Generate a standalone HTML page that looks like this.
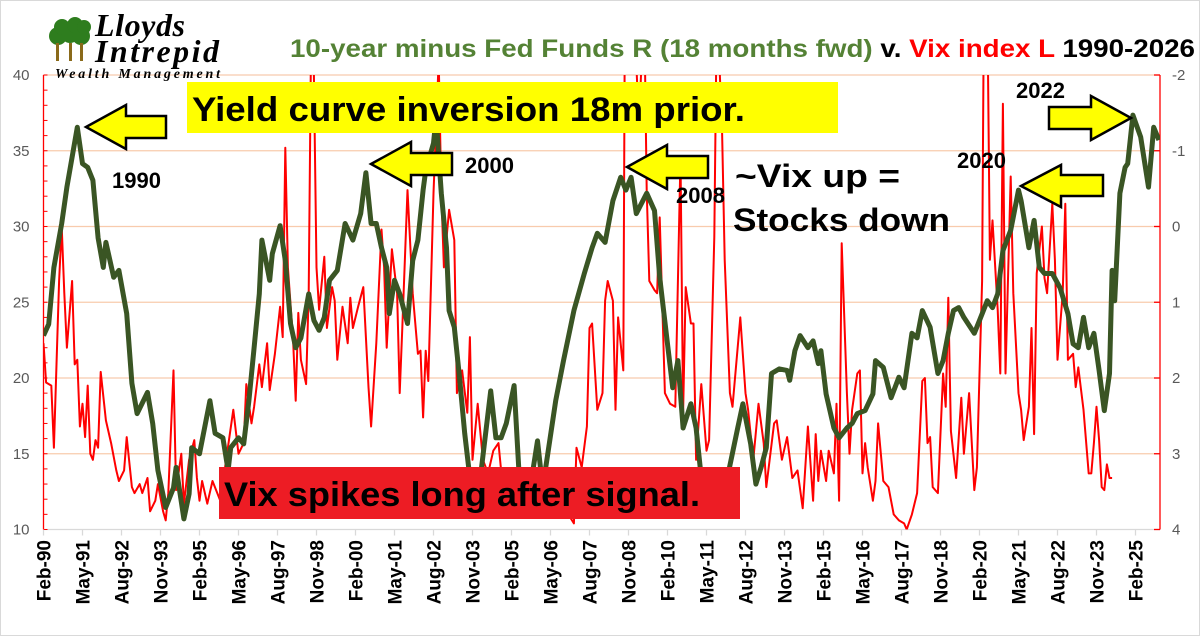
<!DOCTYPE html>
<html><head><meta charset="utf-8">
<style>
html,body{margin:0;padding:0;background:#fff}
body{width:1200px;height:636px;overflow:hidden;position:relative;font-family:"Liberation Sans",sans-serif}
#frame{position:absolute;left:0;top:0;width:1198px;height:634px;border:1px solid #d9d9d9}
svg{position:absolute;left:0;top:0}
</style></head>
<body>
<div id="frame"></div>
<svg id="chart" width="1200" height="636"></svg>
<script>
// Data: months since Feb-1990
const greenMonths=[0,2,4,7,9,13,15,17,19,21,23,24,27,29,32,34,36,40,42,44,47,50,51,54,56,57,60,64,66,69,71,72,75,77,79,81,83,84,87,88,91,93,95,97,99,102,104,106,108,110,113,116,119,122,124,126,128,130,132,133,135,137,140,142,144,146,147,150,151,153,155,156,158,160,162,164,168,172,174,176,178,181,183,187,190,192,197,200,204,208,211,213,216,219,222,224,226,228,232,235,237,240,242,244,246,249,251,253,257,263,267,269,272,274,276,278,280,283,286,287,289,291,294,296,298,299,301,304,306,309,311,313,316,319,320,323,326,329,331,334,336,338,341,344,346,348,350,352,354,358,360,363,365,367,369,372,375,376,379,381,383,385,388,391,394,396,398,400,402,404,406,408,410,411,412,414,416,417,419,422,425,427,429];
const greenValues=[1.44,1.29,0.54,-0.04,-0.52,-1.31,-0.83,-0.78,-0.61,0.15,0.54,0.21,0.67,0.58,1.15,2.07,2.47,2.19,2.60,3.22,3.71,3.45,3.18,3.86,3.53,2.92,3.00,2.30,2.73,2.79,3.22,2.92,2.79,2.87,2.30,1.60,0.89,0.18,0.71,0.36,-0.01,0.45,1.28,1.60,1.47,0.89,1.24,1.37,1.20,0.71,0.58,-0.04,0.18,-0.17,-0.71,-0.04,-0.04,0.28,0.54,1.15,0.71,0.89,1.28,0.45,0.18,-0.48,-0.74,-1.10,-1.44,-0.44,0.28,1.11,1.33,1.99,2.73,3.32,3.32,2.17,2.79,2.79,2.60,2.10,3.32,3.49,2.83,3.45,2.30,1.77,1.11,0.62,0.28,0.09,0.21,-0.34,-0.65,-0.48,-0.65,-0.17,-0.44,-0.21,0.67,1.55,2.13,1.77,2.66,2.34,2.66,3.32,3.32,3.32,2.66,2.34,2.87,3.40,3.18,2.92,1.94,1.88,1.90,2.03,1.64,1.44,1.60,1.51,1.81,1.64,2.21,2.66,2.79,2.66,2.60,2.47,2.43,2.21,1.77,1.86,2.26,1.99,2.13,1.41,1.47,1.11,1.33,1.94,1.77,1.41,1.11,1.07,1.20,1.41,1.24,0.98,1.07,0.89,0.32,0.05,-0.48,-0.34,0.28,-0.08,0.54,0.62,0.62,0.81,1.15,1.55,1.60,1.20,1.60,1.41,1.90,2.43,1.94,0.58,0.98,-0.44,-0.78,-0.83,-1.47,-1.18,-0.52,-1.31,-1.14];
const redMonths=[0,1,3,4,6,7,8,9,11,12,13,14,15,16,17,18,19,20,21,22,24,26,28,29,31,32,34,35,37,38,40,41,43,44,46,47,48,50,51,53,54,56,58,59,60,61,63,65,68,73,75,77,78,80,81,83,84,86,87,89,91,92,93,94,96,97,98,99,101,102,103,104,105,106,108,109,111,112,113,115,117,118,119,121,123,124,125,126,128,130,131,132,134,136,137,138,140,142,144,145,146,147,148,150,152,153,154,156,158,159,161,163,164,165,167,169,171,173,175,176,178,183,190,197,200,204,205,207,209,210,211,213,215,216,217,219,220,221,223,224,227,229,231,232,233,235,236,237,239,241,243,245,246,247,249,250,251,253,255,256,258,259,261,262,264,265,268,270,271,273,275,277,278,281,282,284,286,288,290,292,294,296,297,298,299,301,302,304,305,306,307,309,310,311,313,314,315,316,317,319,320,321,323,325,327,329,331,332,334,336,338,339,340,341,342,344,346,347,348,349,351,353,354,356,358,359,361,362,363,364,365,367,368,369,370,372,373,375,376,377,379,380,381,382,384,385,386,388,389,390,392,393,394,396,397,398,400,402,403,404,405,406,407,408,409,410,411];
const redValues=[22.3,19.7,19.5,15.4,26.4,30.0,25.6,22.0,26.4,20.9,21.2,16.8,18.3,16.1,19.5,15.0,14.6,15.9,15.4,20.4,17.2,15.7,13.9,13.2,13.9,16.1,12.8,12.4,13.0,12.4,13.4,11.2,11.9,13.0,11.2,10.6,12.4,20.5,12.6,15.0,11.7,14.6,15.9,13.4,11.9,13.2,11.7,13.2,11.9,17.9,15.0,15.7,19.6,17.0,18.1,20.9,19.4,22.3,19.2,21.6,24.7,22.7,35.2,27.3,22.5,18.5,24.3,21.2,19.6,25.6,44,40,27.3,24.5,28.0,23.3,26.0,25.1,21.2,24.7,22.3,25.3,23.3,24.7,26.0,22.7,19.4,16.8,22.3,29.8,27.3,22.0,28.5,25.6,19.0,23.3,32.4,25.6,21.6,21.8,17.4,21.8,19.8,32.2,41,32.2,27.3,31.1,29.1,19.0,20.5,17.7,22.7,14.6,18.3,14.6,13.7,15.2,15.7,13.9,13.2,12.0,11.8,12.5,11.5,10.4,15.4,14.1,16.8,23.3,23.6,17.9,19.0,25.1,26.4,25.1,17.9,24.0,20.5,60,45,36.6,45,32.4,26.4,25.8,25.6,30.6,19.0,18.3,18.1,34.6,17.7,26.0,23.6,23.6,14.6,19.6,15.2,15.9,29.3,45,36.2,27.8,19.0,18.1,24.0,19.0,17.9,14.6,18.3,15.7,12.8,17.0,17.2,14.6,16.1,13.4,13.9,11.4,16.8,11.9,16.3,13.2,15.2,13.2,15.2,13.7,18.3,11.9,28.9,19.0,15.0,17.9,20.3,20.5,13.7,15.7,14.1,11.9,13.2,17.0,13.2,12.8,11.0,10.6,10.4,10.0,11.0,12.4,19.8,20.0,15.7,16.1,12.8,12.4,20.3,18.1,25.3,16.5,13.4,18.7,15.0,19.0,12.6,14.1,26.4,53,45,27.8,30.4,24.5,20.3,38.1,20.3,33.3,25.6,19.0,17.9,15.9,18.1,23.3,16.3,26.9,30.0,26.6,25.6,31.5,27.8,21.2,25.6,31.5,21.2,21.6,19.4,20.7,17.9,13.7,13.7,15.7,18.1,15.9,12.8,12.6,14.3,13.4,13.4];
const leftTicks=[10,15,20,25,30,35,40];
const rightTicks=[-2,-1,0,1,2,3,4];
const xLabels=["Feb-90","May-91","Aug-92","Nov-93","Feb-95","May-96","Aug-97","Nov-98","Feb-00","May-01","Aug-02","Nov-03","Feb-05","May-06","Aug-07","Nov-08","Feb-10","May-11","Aug-12","Nov-13","Feb-15","May-16","Aug-17","Nov-18","Feb-20","May-21","Aug-22","Nov-23","Feb-25"];
const labelStep=15;

const NS="http://www.w3.org/2000/svg";
const svg=document.getElementById('chart');
const L=43.5,R=1160,T=75,B=529.5;
const xS=m=>L+m*2.6;
const yL=v=>T+(40-v)*(B-T)/30;
const yR=r=>T+(r+2)*(B-T)/6;
function mk(tag,attrs,parent){const e=document.createElementNS(NS,tag);for(const k in attrs)e.setAttribute(k,attrs[k]);(parent||svg).appendChild(e);return e;}

const defs=mk('defs',{});
const cp=mk('clipPath',{id:'plotclip'},defs);
mk('rect',{x:L,y:T,width:R-L,height:B-T},cp);

leftTicks.forEach(v=>{
  const g=mk('line',{x1:L,x2:R,y1:yL(v),y2:yL(v),stroke:v===10?'#d9d9d9':'#f8cbad','stroke-width':1.3});
  
  
  const t=mk('text',{x:L-14,y:yL(v)+5,'text-anchor':'end','font-size':15,fill:'#595959'});
  t.textContent=v;
  
  
});
rightTicks.forEach(r=>{
  const t=mk('text',{x:R+12,y:yR(r)+5,'font-size':15,fill:'#595959'});
  t.textContent=r;
  
  
  mk('line',{x1:R-6,x2:R,y1:yR(r),y2:yR(r),stroke:'#ff0000','stroke-width':1.3});
});
for(let v=10;v<=40;v++){mk('line',{x1:L,x2:L+4,y1:yL(v),y2:yL(v),stroke:'#ff0000','stroke-width':1});}
const la=mk('line',{x1:L,x2:L,y1:T,y2:B,stroke:'#ff0000','stroke-width':1.3});

const ra=mk('line',{x1:R,x2:R,y1:T,y2:B,stroke:'#ff0000','stroke-width':1.3});


xLabels.forEach((s,i)=>{
  const x=xS(i*labelStep);
  mk('line',{x1:x,x2:x,y1:B,y2:B+6,stroke:'#d9d9d9','stroke-width':1.3});
  const t=mk('text',{transform:`translate(${x+7},540) rotate(-90)`,'text-anchor':'end','font-size':19,'font-weight':'bold',fill:'#000'});
  t.textContent=s;
  
  
});

const plot=mk('g',{'clip-path':'url(#plotclip)'});
const rp=mk('path',{d:redMonths.map((m,i)=>(i?'L':'M')+xS(m).toFixed(1)+','+yL(redValues[i]).toFixed(1)).join(''),fill:'none',stroke:'#ff0000','stroke-width':2,'stroke-linejoin':'round'},plot);

const gp=mk('path',{d:greenMonths.map((m,i)=>(i?'L':'M')+xS(m).toFixed(1)+','+yR(greenValues[i]).toFixed(1)).join(''),fill:'none',stroke:'#3a5524','stroke-width':5,'stroke-linejoin':'round'},plot);

</script>
<svg width="1200" height="636" style="font-family:'Liberation Sans',sans-serif">
  <g>
    <g fill="#2e7d1e">
      <circle cx="58" cy="36" r="9"/><circle cx="62" cy="27" r="8"/><circle cx="70" cy="34" r="9"/>
      <circle cx="75" cy="25" r="8"/><circle cx="81" cy="36" r="9"/><circle cx="84" cy="27" r="7"/>
    </g>
    <rect x="56" y="43" width="3" height="18" fill="#8a6a1a"/><rect x="69" y="43" width="3" height="18" fill="#8a6a1a"/><rect x="80" y="43" width="3" height="18" fill="#8a6a1a"/>
    <text x="95" y="36" font-family="'Liberation Serif',serif" font-style="italic" font-weight="bold" font-size="32" textLength="90">Lloyds</text>
    <text x="95" y="62" font-family="'Liberation Serif',serif" font-style="italic" font-weight="bold" font-size="32" textLength="124">Intrepid</text>
    <text x="55" y="78" font-family="'Liberation Serif',serif" font-style="italic" font-weight="bold" font-size="14" textLength="165">Wealth Management</text>
  </g>
  <text x="290" y="57" font-size="25" font-weight="bold" textLength="905" lengthAdjust="spacingAndGlyphs"><tspan fill="#548235">10-year minus Fed Funds R (18 months fwd)</tspan><tspan fill="#000"> v. </tspan><tspan fill="#ff0000">Vix index L</tspan><tspan fill="#000"> 1990-2026</tspan></text>

  <rect x="187" y="82" width="651" height="51" fill="#ffff00"/>
  <text x="192" y="121" font-size="34" font-weight="bold" textLength="553" lengthAdjust="spacingAndGlyphs">Yield curve inversion 18m prior.</text>
  <rect x="219" y="467" width="521" height="52" fill="#ed1c24"/>
  <text x="224" y="506" font-size="34" font-weight="bold" textLength="476" lengthAdjust="spacingAndGlyphs">Vix spikes long after signal.</text>
  <text x="735" y="187" font-size="32" font-weight="bold" textLength="165" lengthAdjust="spacingAndGlyphs">~Vix up =</text>
  <text x="733" y="231" font-size="32" font-weight="bold" textLength="217" lengthAdjust="spacingAndGlyphs">Stocks down</text>

  <g font-size="22" font-weight="bold" fill="#000">
    <text x="112" y="188">1990</text>
    <text x="465" y="173">2000</text>
    <text x="676" y="203">2008</text>
    <text x="957" y="168">2020</text>
    <text x="1016" y="98">2022</text>
  </g>
  <g fill="#ffff00" stroke="#000" stroke-width="2.5" stroke-linejoin="miter">
    <polygon points="86,127 126,105 126,116 166,116 166,138 126,138 126,149"/>
    <polygon points="371,164 411,142 411,153 452,153 452,175 411,175 411,186"/>
    <polygon points="627,167 667,145 667,156 708,156 708,178 667,178 667,189"/>
    <polygon points="1021,186 1061,165 1061,175 1103,175 1103,196 1061,196 1061,207"/>
    <polygon points="1131,118 1091,96 1091,107 1049,107 1049,129 1091,129 1091,140"/>
  </g>
</svg>
</body></html>
